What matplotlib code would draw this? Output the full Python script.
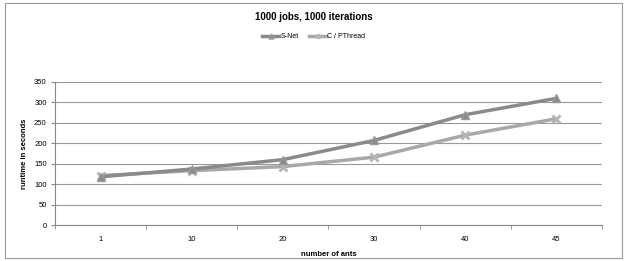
import numpy as np
import matplotlib
matplotlib.use("Agg")
from matplotlib import pyplot as plt
from matplotlib.patches import Rectangle

ants = ["1", "10", "20", "30", "40", "45"]
snet = [118, 137, 160, 207, 270, 310]
pthread = [121, 133, 143, 166, 220, 260]

plt.rcParams['font.family'] = ['Liberation Sans', 'DejaVu Sans']

fig = plt.figure(figsize=(6.27, 2.61), dpi=100)
ax = fig.add_axes([55 / 627, 1 - 225 / 261, 547 / 627, 143 / 261])

# outer chart border
fig.patches.append(Rectangle((5 / 627, 3 / 261), 617 / 627, 255 / 261,
                             transform=fig.transFigure, fill=False,
                             edgecolor='#999999', linewidth=0.8))

x = np.arange(len(ants))
ax.plot(x, snet, color='#8a8a8a', linewidth=2.5, marker='^', markersize=6,
        markerfacecolor='#8a8a8a', markeredgecolor='#9a9a9a', label='S-Net', zorder=3)
ax.plot(x, pthread, color='#a8a8a8', linewidth=2.5, marker='x', markersize=6,
        markeredgewidth=2, markeredgecolor='#b5b5b5', label='C / PThread', zorder=2)

ax.set_xlim(-0.5, len(ants) - 0.5)
ax.set_ylim(0, 350)
ax.set_yticks(np.arange(0, 351, 50))
ax.set_xticks(x)
ax.set_xticklabels(ants)
ax.set_xticks(np.arange(-0.5, len(ants), 1), minor=True)
ax.tick_params(axis='x', which='major', length=0, labelsize=5.5, pad=8)
ax.tick_params(axis='x', which='minor', length=3, color='#888888')
ax.tick_params(axis='y', length=3, color='#888888', labelsize=5.5, pad=3)
ax.yaxis.grid(True, color='#999999', linewidth=0.8)
ax.set_axisbelow(True)
for s in ['top', 'right']:
    ax.spines[s].set_visible(False)
ax.spines['left'].set_color('#888888')
ax.spines['bottom'].set_color('#888888')

ax.set_xlabel('number of ants', fontsize=5.5, fontweight='bold', labelpad=6)
ax.set_ylabel('runtime in seconds', fontsize=5.5, fontweight='bold', labelpad=4)

fig.text(0.5, 1 - 17 / 261, '1000 jobs, 1000 iterations', ha='center', va='center',
         fontsize=7, fontweight='bold')
fig.legend(loc='center', bbox_to_anchor=(0.5, 1 - 37 / 261), ncol=2, frameon=False,
           fontsize=5, handlelength=2.5, handletextpad=0.1, columnspacing=1.5,
           markerscale=0.6)

plt.savefig("out.png", dpi=100)
plt.close()
